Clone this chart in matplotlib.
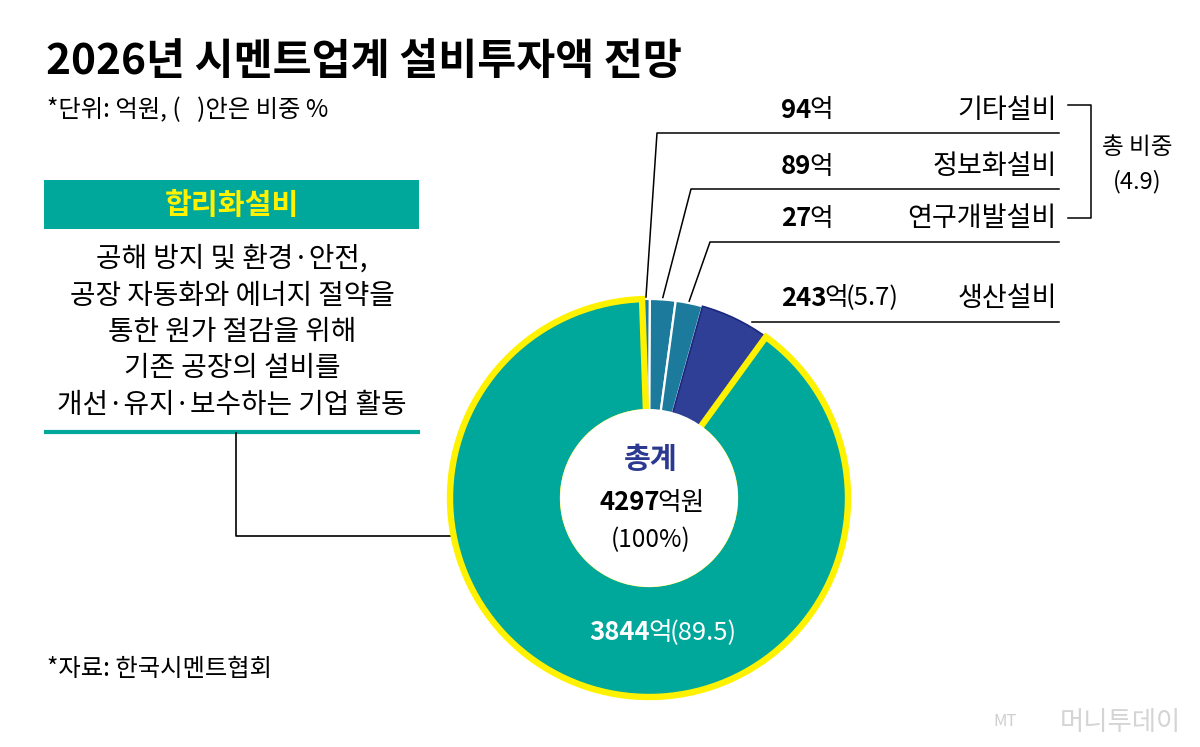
import matplotlib
matplotlib.use("Agg")
import numpy as np
import matplotlib.pyplot as plt
from matplotlib.patches import Rectangle, Circle

plt.rcParams['font.family'] = ['Noto Sans CJK KR', 'DejaVu Sans']

# 데이터 (억원)
row_names = ['기타설비', '정보화설비', '연구개발설비', '생산설비']
row_values = [94, 89, 27, 243]
main_name = '합리화설비'
main_value = 3844
main_share = 89.5
prod_share = 5.7
small_share = 4.9
total_value = 4297
desc_lines = ['공해 방지 및 환경·안전,',
              '공장 자동화와 에너지 절약을',
              '통한 원가 절감을 위해',
              '기존 공장의 설비를',
              '개선·유지·보수하는 기업 활동']

TEAL = '#00A79B'
SMALL = '#1C7A9C'
NAVY = '#2F3F96'
YELLOW = '#FFF200'

W, H = 1200, 747
fig = plt.figure(figsize=(W / 100, H / 100), dpi=100)
ax = fig.add_axes([0, 0, 1, 1])


def Y(py):
    # 화면 픽셀 y -> 데이터 y
    return H - py


# 도넛: 왼쪽부터 작은 조각 3개, 생산설비, 합리화설비
pie_vals = row_values[2::-1] + [row_values[3], main_value]
pie_cols = [SMALL, SMALL, SMALL, NAVY, TEAL]
cx, cy, R = 649, Y(498), 199
wedges, _ = ax.pie(pie_vals, colors=pie_cols, startangle=92, counterclock=False,
                   radius=R, center=(cx, cy),
                   wedgeprops=dict(width=R - 86, linewidth=1.6, edgecolor='white'))
wedges[3].set_edgecolor('#1A2680')
wedges[3].set_linewidth(1.2)
wedges[4].set_edgecolor(YELLOW)
wedges[4].set_linewidth(4.6)
wedges[4].set_zorder(3)
ax.add_patch(Circle((cx, cy), 89, facecolor='white', edgecolor='none', zorder=4))

ax.set_xlim(0, W)
ax.set_ylim(0, H)
ax.set_aspect('auto')
ax.axis('off')

renderer = fig.canvas.get_renderer()


def pieces(x, y, parts, size, color='black', ha='left'):
    objs = []
    for s, w in parts:
        t = ax.text(0, Y(y), s, fontsize=size, fontweight=w, color=color,
                    va='center', ha='left', zorder=6)
        objs.append(t)
    widths = [t.get_window_extent(renderer).width - 2 for t in objs]
    x0 = x - sum(widths) / 2 if ha == 'center' else x
    for t, wd in zip(objs, widths):
        t.set_x(x0)
        x0 += wd


# 제목
ax.text(46, Y(62), '2026년 시멘트업계 설비투자액 전망', fontsize=30.5, fontweight='bold',
        va='center', ha='left')
ax.text(47, Y(110), '*단위: 억원, (   )안은 비중 %', fontsize=17.5, va='center', ha='left')
ax.text(47, Y(669), '*자료: 한국시멘트협회', fontsize=17.5, va='center', ha='left')

# 합리화설비 설명 박스
ax.add_patch(Rectangle((44, Y(229)), 375, 49, facecolor=TEAL, edgecolor='none'))
ax.text(232, Y(205), main_name, fontsize=21, fontweight='bold', color=YELLOW,
        va='center', ha='center')
for i, line in enumerate(desc_lines):
    ax.text(232, Y(259 + i * 36.5), line, fontsize=20, va='center', ha='center')
ax.plot([44, 420], [Y(432), Y(432)], color=TEAL, lw=3, solid_capstyle='butt')
ax.plot([236, 236, 452], [Y(433), Y(536), Y(536)], color='black', lw=1.2, zorder=2)

# 오른쪽 항목 표
row_y = [110, 167, 219, 298]
line_y = [133, 189, 242, 322]
line_x = [657, 691, 710]
for i in range(3):
    w = wedges[i]
    th = np.deg2rad((w.theta1 + w.theta2) / 2)
    ex, ey = cx + R * np.cos(th), cy + R * np.sin(th)
    ax.plot([ex, line_x[i], 1059], [ey + 2, Y(line_y[i]), Y(line_y[i])],
            color='black', lw=1.1, zorder=5)
ax.plot([752, 1059], [Y(line_y[3]), Y(line_y[3])], color='black', lw=1.1, zorder=5)

for i in range(4):
    parts = [(f'{row_values[i]}', 'bold'), ('억', 'normal')]
    if i == 3:
        parts.append((f'({prod_share})', 'normal'))
    pieces(781, row_y[i], parts, 18.5)
    ax.text(1057, Y(row_y[i]), row_names[i], fontsize=19.5, va='center', ha='right')

ax.plot([1068, 1091, 1091, 1068], [Y(105), Y(105), Y(218), Y(218)], color='black', lw=1.1)
ax.text(1137, Y(148), '총 비중', fontsize=17, va='center', ha='center')
ax.text(1137, Y(182), f'({small_share})', fontsize=17, va='center', ha='center')

# 가운데 합계
ax.text(651, Y(459), '총계', fontsize=21, fontweight='bold', color='#2B3990',
        va='center', ha='center', zorder=6)
pieces(651, 503, [(f'{total_value}', 'bold'), ('억원', 'normal')], 18.5, ha='center')
ax.text(651, Y(540), '(100%)', fontsize=17.5, va='center', ha='center', zorder=6)
pieces(662, 633, [(f'{main_value}', 'bold'), ('억', 'normal'), (f'({main_share})', 'normal')],
       18.5, color='white', ha='center')

# 워터마크
ax.text(993, Y(722), 'MT', fontsize=12, fontstyle='italic', color='#cfcfcf', va='center')
ax.text(1060, Y(722), '머니투데이', fontsize=19, color='#d4d4d4', va='center')

fig.savefig('out.png', dpi=100)
